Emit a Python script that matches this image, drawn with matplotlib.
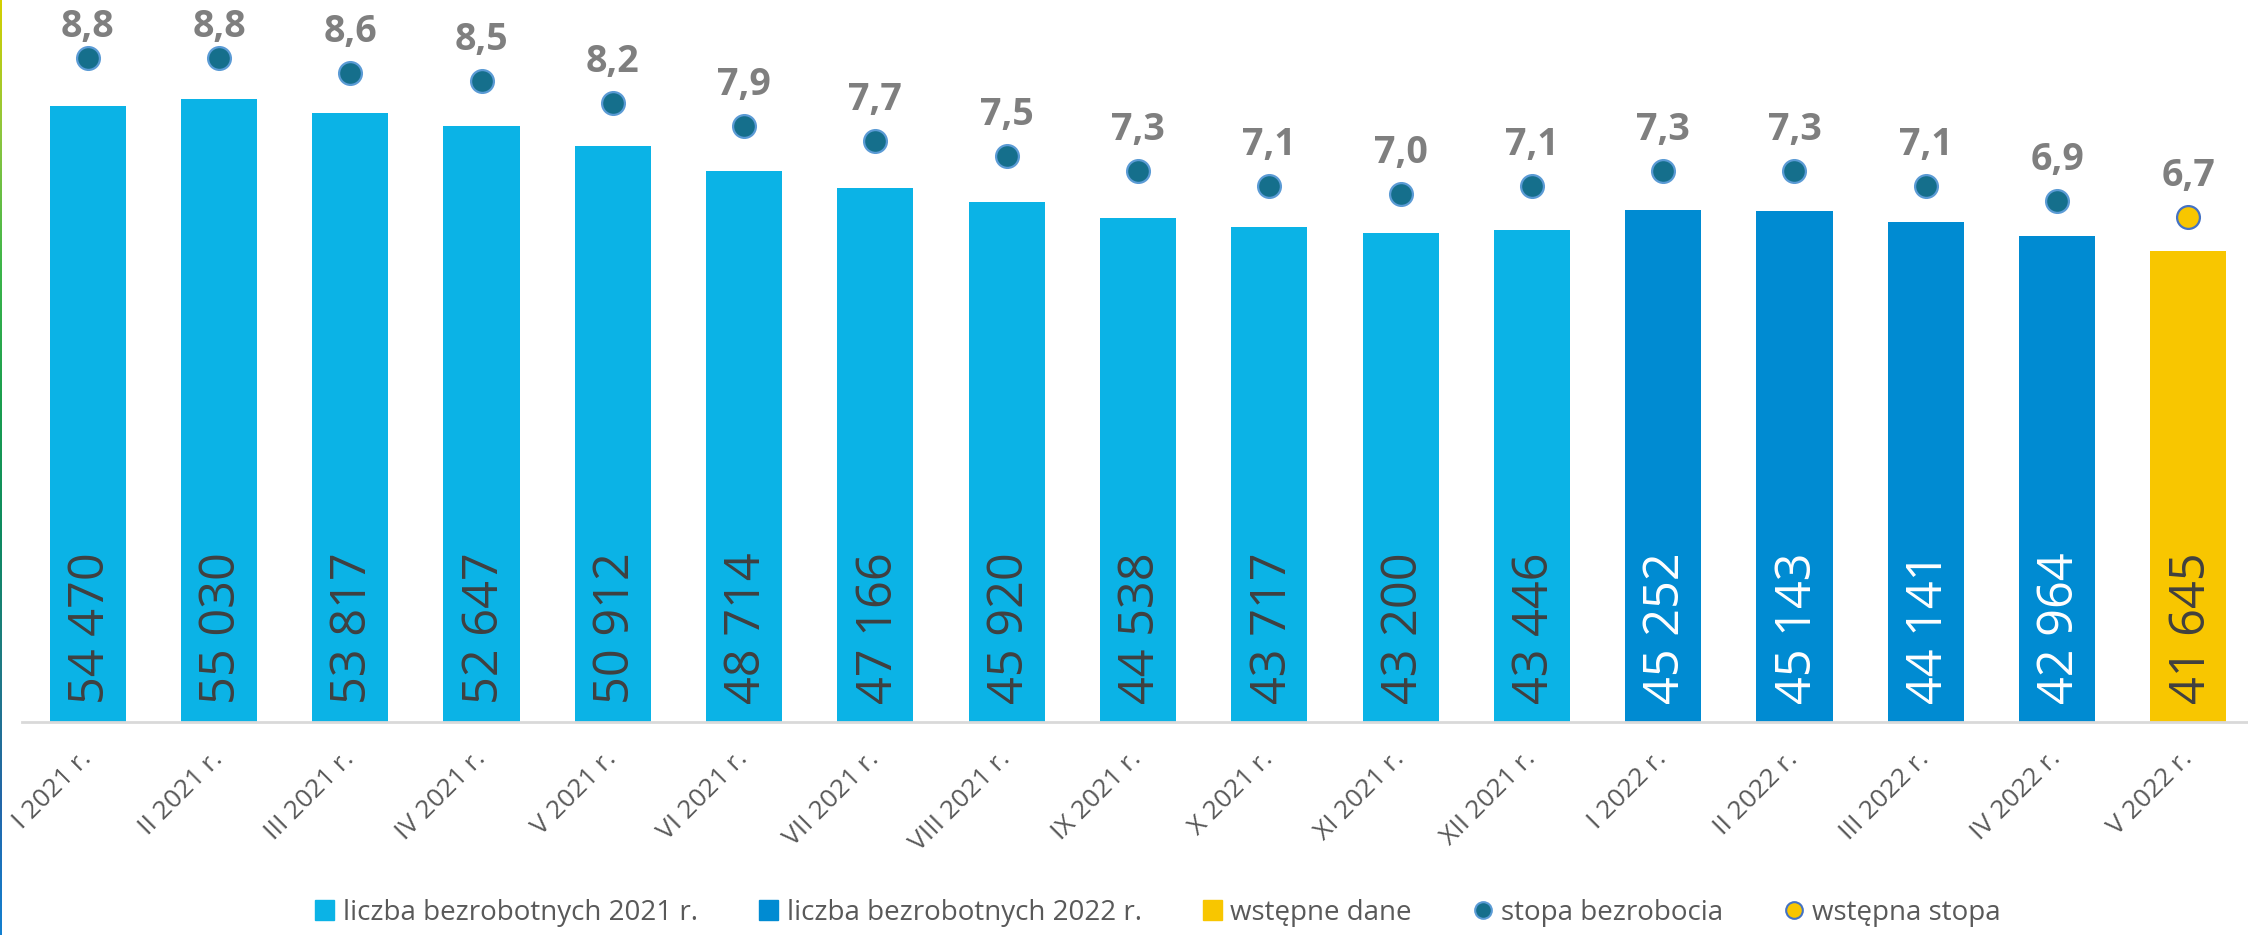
import numpy as np
import matplotlib
matplotlib.use("Agg")
import matplotlib.pyplot as plt
from matplotlib.patches import Patch
from matplotlib.lines import Line2D
from matplotlib.colors import LinearSegmentedColormap

# dane
months = ['I 2021 r.', 'II 2021 r.', 'III 2021 r.', 'IV 2021 r.', 'V 2021 r.', 'VI 2021 r.',
          'VII 2021 r.', 'VIII 2021 r.', 'IX 2021 r.', 'X 2021 r.', 'XI 2021 r.', 'XII 2021 r.',
          'I 2022 r.', 'II 2022 r.', 'III 2022 r.', 'IV 2022 r.', 'V 2022 r.']
unemployed = [54470, 55030, 53817, 52647, 50912, 48714, 47166, 45920, 44538, 43717,
              43200, 43446, 45252, 45143, 44141, 42964, 41645]
rate = [8.8, 8.8, 8.6, 8.5, 8.2, 7.9, 7.7, 7.5, 7.3, 7.1, 7.0, 7.1, 7.3, 7.3, 7.1, 6.9, 6.7]
group = ['2021'] * 12 + ['2022'] * 4 + ['prelim']

c2021 = '#0BB3E6'
c2022 = '#008BD2'
cpre = '#F8C600'
cdot = '#156F8C'
cdot_edge = '#5B9BD5'

bar_colors = {'2021': c2021, '2022': c2022, 'prelim': cpre}
label_colors = {'2021': '#404040', '2022': 'white', 'prelim': '#404040'}

W, H, DPI = 2248, 935, 100
fig = plt.figure(figsize=(W / DPI, H / DPI), dpi=DPI)
ax = fig.add_axes([22 / W, 213 / H, 2232 / W, 679 / H])
ax2 = ax.twinx()

x = np.arange(len(months))
ax.bar(x, unemployed, width=0.58, color=[bar_colors[g] for g in group], zorder=2)

for i, v in enumerate(unemployed):
    s = f'{v:,}'.replace(',', ' ')
    ax.annotate(s, xy=(i, 0), xytext=(2.5, 13), textcoords='offset points',
                rotation=90, ha='center', va='bottom', fontsize=35,
                family='Open Sans', color=label_colors[group[i]], zorder=3)

ax.set_xlim(-0.5, len(months) - 0.5)
ax.set_ylim(0, 60000)
ax2.set_ylim(0, 9)

# etykiety stopy: nad punktem, ale nie wyzej niz gorna krawedz obrazka
gap_px, cap_px, top_margin = 31, 27, 10
for i, r in enumerate(rate):
    fc = cpre if group[i] == 'prelim' else cdot
    ec = '#4472C4' if group[i] == 'prelim' else cdot_edge
    ax2.scatter(i, r, s=270, color=fc, edgecolors=ec, linewidths=1.6, zorder=4)
    y_px = ax2.transData.transform((i, r))[1]
    base = min(y_px + gap_px, H - top_margin - cap_px)
    ax2.annotate(f'{r:.1f}'.replace('.', ','), xy=(i, r), xytext=(0, (base - y_px) * 72 / DPI),
                 textcoords='offset points', ha='center', va='baseline',
                 fontsize=27, fontweight='bold', family='Open Sans', color='#7F7F7F')

for a in (ax, ax2):
    for sp in ['top', 'right', 'left']:
        a.spines[sp].set_visible(False)
    a.set_yticks([])
ax2.spines['bottom'].set_visible(False)
ax.spines['bottom'].set_color('#D9D9D9')
ax.spines['bottom'].set_linewidth(2)

ax.set_xticks(x)
ax.set_xticklabels(months, family='Open Sans', fontsize=19, color='#595959')
ax.tick_params(axis='x', length=0, pad=24)
plt.setp(ax.get_xticklabels(), rotation=45, ha='right', va='center', rotation_mode='anchor')

handles = [
    Patch(color=c2021, label='liczba bezrobotnych 2021 r.'),
    Patch(color=c2022, label='liczba bezrobotnych 2022 r.'),
    Patch(color=cpre, label='wstępne dane'),
    Line2D([], [], ls='none', marker='o', markersize=12, markerfacecolor=cdot,
           markeredgecolor=cdot_edge, markeredgewidth=1.5, label='stopa bezrobocia'),
    Line2D([], [], ls='none', marker='o', markersize=12, markerfacecolor=cpre,
           markeredgecolor='#4472C4', markeredgewidth=1.5, label='wstępna stopa'),
]
leg = fig.legend(handles=handles, loc='center', bbox_to_anchor=(0.515, 0.024), ncol=5,
                 frameon=False, prop={'family': 'Open Sans', 'size': 20},
                 handlelength=0.7, handleheight=0.7, handletextpad=0.3, columnspacing=2.2,
                 labelcolor='#595959')

# pasek z lewej strony
strip = fig.add_axes([0, 0, 2 / W, 1])
cmap = LinearSegmentedColormap.from_list('strip', ['#D4D000', '#8DC63F', '#3DB54A', '#1B9E4F',
                                                   '#0E8A60', '#1F7A85', '#2366A8', '#1380D0'])
strip.imshow(np.linspace(0, 1, 256).reshape(-1, 1), aspect='auto', cmap=cmap)
strip.axis('off')

fig.savefig('out.png', dpi=DPI)
